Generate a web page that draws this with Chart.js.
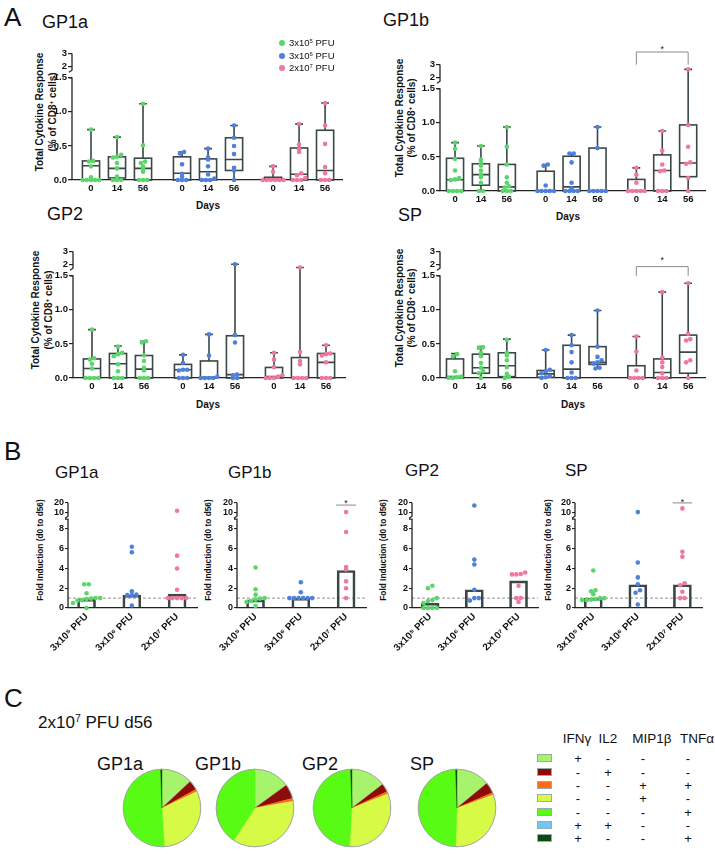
<!DOCTYPE html>
<html>
<head>
<meta charset="utf-8">
<script src="https://cdn.jsdelivr.net/npm/chart.js@4.4.1/dist/chart.umd.min.js"></script>
<style>
  body { margin: 0; background: #fff; }
  #page { position: relative; width: 715px; height: 854px; overflow: hidden; font-family: "Liberation Sans", Arial, sans-serif; color: #111; }
  .box { position: absolute; }
  .t { position: absolute; white-space: nowrap; line-height: 1; }
  .l { transform: translateY(-50%); }
  .c { transform: translate(-50%, -50%); }
  .v { transform: translate(-50%, -50%) rotate(-90deg); font-weight: bold; }
  sup { font-size: 0.62em; vertical-align: 0.5em; line-height: 0; }
</style>
</head>
<body>
<div id="page">
  <!-- panel A -->
  <div class="t l" style="left:4px;top:17px;font-size:26px">A</div>
  <div class="t l" style="left:42px;top:22px;font-size:18px">GP1a</div>
  <div class="t l" style="left:383px;top:20px;font-size:18px">GP1b</div>
  <div class="t l" style="left:47px;top:214px;font-size:18px">GP2</div>
  <div class="t l" style="left:398px;top:215px;font-size:18px">SP</div>

  <div class="t v" style="left:40px;top:112px;font-size:10px">Total Cytokine Response</div>
  <div class="t v" style="left:53px;top:112px;font-size:10px">(% of CD8<sup>+</sup> cells)</div>
  <div class="t v" style="left:400px;top:118px;font-size:10px">Total Cytokine Response</div>
  <div class="t v" style="left:412px;top:118px;font-size:10px">(% of CD8<sup>+</sup> cells)</div>
  <div class="t v" style="left:36px;top:310px;font-size:10px">Total Cytokine Response</div>
  <div class="t v" style="left:49px;top:310px;font-size:10px">(% of CD8<sup>+</sup> cells)</div>
  <div class="t v" style="left:400px;top:308px;font-size:10px">Total Cytokine Response</div>
  <div class="t v" style="left:412px;top:308px;font-size:10px">(% of CD8<sup>+</sup> cells)</div>

  <div class="t c" style="left:208px;top:206px;font-size:10px;font-weight:bold">Days</div>
  <div class="t c" style="left:568px;top:217px;font-size:10px;font-weight:bold">Days</div>
  <div class="t c" style="left:208px;top:405px;font-size:10px;font-weight:bold">Days</div>
  <div class="t c" style="left:573px;top:405px;font-size:10px;font-weight:bold">Days</div>

  <div class="box" style="left:32px;top:20px;width:314px;height:186px"><canvas id="aGP1a"></canvas></div>
  <div class="box" style="left:400px;top:31px;width:309px;height:186px"><canvas id="aGP1b"></canvas></div>
  <div class="box" style="left:33px;top:218px;width:316px;height:186px"><canvas id="aGP2"></canvas></div>
  <div class="box" style="left:400px;top:218px;width:309px;height:186px"><canvas id="aSP"></canvas></div>

  <!-- panel B -->
  <div class="t l" style="left:4px;top:451px;font-size:26px">B</div>
  <div class="t l" style="left:55px;top:472px;font-size:17px">GP1a</div>
  <div class="t l" style="left:228px;top:472px;font-size:17px">GP1b</div>
  <div class="t l" style="left:405px;top:470px;font-size:17px">GP2</div>
  <div class="t l" style="left:565px;top:470px;font-size:17px">SP</div>

  <div class="t v" style="left:40px;top:550px;font-size:8.3px">Fold Induction (d0 to d56)</div>
  <div class="t v" style="left:208px;top:550px;font-size:8.3px">Fold Induction (d0 to d56)</div>
  <div class="t v" style="left:383px;top:550px;font-size:8.3px">Fold Induction (d0 to d56)</div>
  <div class="t v" style="left:548px;top:550px;font-size:8.3px">Fold Induction (d0 to d56)</div>

  <div class="box" style="left:36px;top:490px;width:164px;height:163px"><canvas id="bGP1a"></canvas></div>
  <div class="box" style="left:205px;top:490px;width:164px;height:163px"><canvas id="bGP1b"></canvas></div>
  <div class="box" style="left:380px;top:490px;width:161px;height:163px"><canvas id="bGP2"></canvas></div>
  <div class="box" style="left:543px;top:490px;width:162px;height:163px"><canvas id="bSP"></canvas></div>

  <!-- panel C -->
  <div class="t l" style="left:4px;top:698px;font-size:26px">C</div>
  <div class="t l" style="left:38px;top:722px;font-size:17px">2x10<sup>7</sup> PFU d56</div>
  <div class="t l" style="left:97px;top:764px;font-size:18px">GP1a</div>
  <div class="t l" style="left:195px;top:764px;font-size:18px">GP1b</div>
  <div class="t l" style="left:302px;top:764px;font-size:18px">GP2</div>
  <div class="t l" style="left:410px;top:764px;font-size:18px">SP</div>

  <div class="box" style="left:122px;top:768px;width:80px;height:80px"><canvas id="cGP1a"></canvas></div>
  <div class="box" style="left:215px;top:768px;width:80px;height:80px"><canvas id="cGP1b"></canvas></div>
  <div class="box" style="left:312px;top:768px;width:80px;height:80px"><canvas id="cGP2"></canvas></div>
  <div class="box" style="left:417px;top:768px;width:80px;height:80px"><canvas id="cSP"></canvas></div>
</div>

<script>
// ---------- values ----------
const days = ['0', '14', '56'];
const doses = ['3x10⁵ PFU', '3x10⁶ PFU', '2x10⁷ PFU'];
const dosesHtml = ['3x10<sup>5</sup> PFU', '3x10<sup>6</sup> PFU', '2x10<sup>7</sup> PFU'];
const yTicksA = [0, 0.5, 1, 1.5, 2, 3];
const yLabelsA = ['0.0', '0.5', '1.0', '1.5', '2', '3'];
const yTicksB = [0, 2, 4, 6, 8, 10, 20];

// panel A, groups: 3x10^5 d0,d14,d56 | 3x10^6 d0,d14,d56 | 2x10^7 d0,d14,d56
const gp1aDots = [
  [0.74, 0.28, 0.27, 0.2, 0.04, 0, 0, 0, 0, 0],
  [0.63, 0.37, 0.34, 0.33, 0.25, 0.17, 0.05, 0, 0, 0],
  [1.12, 0.51, 0.27, 0.25, 0.2, 0.16, 0.12, 0, 0, 0],
  [0.41, 0.39, 0.23, 0.09, 0.05, 0, 0, 0],
  [0.46, 0.33, 0.3, 0.2, 0.08, 0.02, 0, 0, 0],
  [0.8, 0.62, 0.5, 0.38, 0.18, 0.14, 0],
  [0.2, 0.12, 0, 0, 0, 0, 0, 0],
  [0.82, 0.52, 0.45, 0.41, 0.1, 0.07, 0.03, 0, 0, 0],
  [1.13, 0.8, 0.53, 0.19, 0.1, 0, 0, 0]
];
// [min, q1, median, q3, max]
const gp1aBoxes = [
  [0, 0, 0.21, 0.28, 0.74], [0, 0.03, 0.17, 0.34, 0.63], [0, 0, 0.17, 0.32, 1.12],
  [0, 0, 0.1, 0.34, 0.41], [0, 0, 0.12, 0.31, 0.46], [0, 0.14, 0.3, 0.62, 0.8],
  [0, 0, 0.01, 0.04, 0.2], [0, 0, 0.085, 0.47, 0.82], [0, 0, 0.14, 0.73, 1.13]
];

const gp1bDots = [
  [0.71, 0.62, 0.47, 0.3, 0.19, 0.17, 0.16, 0, 0, 0, 0],
  [0.66, 0.46, 0.41, 0.37, 0.3, 0.24, 0.2, 0.12, 0, 0],
  [0.94, 0.65, 0.39, 0.2, 0.12, 0.07, 0.05, 0, 0, 0],
  [0.39, 0.37, 0.08, 0, 0, 0, 0, 0],
  [0.55, 0.55, 0.42, 0.12, 0.04, 0, 0, 0, 0],
  [0.94, 0.63, 0, 0, 0, 0, 0],
  [0.34, 0.24, 0.12, 0, 0, 0, 0, 0],
  [0.88, 0.59, 0.39, 0.3, 0.29, 0, 0, 0],
  [2.62, 0.97, 0.65, 0.42, 0.4, 0.19, 0]
];
const gp1bBoxes = [
  [0, 0, 0.165, 0.48, 0.71], [0, 0.085, 0.24, 0.4, 0.66], [0, 0, 0.06, 0.39, 0.94],
  [0, 0, 0, 0.29, 0.39], [0, 0, 0.06, 0.51, 0.55], [0, 0, 0, 0.63, 0.94],
  [0, 0, 0, 0.17, 0.34], [0, 0, 0.3, 0.53, 0.88], [0, 0.21, 0.41, 0.97, 2.62]
];

const gp2Dots = [
  [0.71, 0.29, 0.27, 0.21, 0.14, 0, 0, 0, 0],
  [0.46, 0.37, 0.35, 0.32, 0.2, 0.1, 0, 0, 0],
  [0.54, 0.52, 0.33, 0.25, 0.15, 0.11, 0, 0, 0],
  [0.34, 0.22, 0.12, 0.12, 0.11, 0, 0, 0],
  [0.64, 0.33, 0.02, 0, 0, 0, 0],
  [2.0, 0.63, 0.52, 0.05, 0.04, 0, 0],
  [0.37, 0.27, 0.16, 0.04, 0.02, 0, 0, 0],
  [1.86, 0.38, 0.25, 0.2, 0, 0, 0, 0],
  [0.48, 0.36, 0.35, 0.33, 0.23, 0, 0, 0]
];
const gp2Boxes = [
  [0, 0, 0.14, 0.28, 0.71], [0, 0, 0.21, 0.36, 0.47], [0, 0, 0.13, 0.33, 0.54],
  [0, 0, 0.12, 0.2, 0.34], [0, 0, 0.01, 0.25, 0.64], [0, 0, 0.05, 0.62, 2.0],
  [0, 0, 0.02, 0.155, 0.37], [0, 0, 0, 0.3, 1.86], [0, 0, 0.23, 0.36, 0.48]
];

const spDots = [
  [0.35, 0.32, 0.1, 0.02, 0.01, 0, 0],
  [0.45, 0.44, 0.37, 0.32, 0.22, 0.15, 0.1, 0.07, 0],
  [0.56, 0.37, 0.33, 0.26, 0.16, 0.06, 0.02, 0],
  [0.41, 0.12, 0.1, 0.07, 0.03, 0.01, 0],
  [0.63, 0.48, 0.38, 0.23, 0.08, 0, 0, 0],
  [0.99, 0.46, 0.31, 0.26, 0.23, 0.21, 0.15, 0.14],
  [0.61, 0.39, 0.11, 0, 0, 0, 0],
  [1.26, 0.3, 0.23, 0.16, 0.07, 0, 0, 0],
  [1.39, 0.65, 0.57, 0.55, 0.26, 0.23, 0]
];
const spBoxes = [
  [0, 0, 0.02, 0.28, 0.36], [0, 0.07, 0.15, 0.35, 0.46], [0, 0.02, 0.18, 0.37, 0.57],
  [0, 0.01, 0.06, 0.11, 0.41], [0, 0, 0.13, 0.48, 0.63], [0.14, 0.2, 0.23, 0.46, 0.99],
  [0, 0, 0, 0.18, 0.61], [0, 0, 0.08, 0.28, 1.26], [0, 0.07, 0.38, 0.63, 1.39]
];

// panel B, fold induction d0 -> d56 per dose, and the bar height
const gp1aFold = [
  [2.4, 2.4, 1.5, 1.0, 1.0, 0.95, 0.9, 0.8, 0.75, 0.5, 0],
  [6.2, 5.65, 1.7, 1.35, 1.3, 1.3, 0.25],
  [11.5, 5.3, 4.0, 1.85, 1.0, 1.0, 1.0, 1.0, 1.0]
];
const gp1aFoldBar = [0.9, 1.3, 1.4];
const gp1bFold = [
  [4.1, 1.9, 1.35, 1.0, 0.95, 0.85, 0.7, 0.6, 0.2],
  [2.6, 1.6, 1.0, 1.0, 1.0, 1.0, 1.0, 1.0],
  [10.1, 7.7, 4.15, 3.9, 2.7, 2.0, 1.0]
];
const gp1bFoldBar = [0.83, 1.0, 3.8];
const gp2Fold = [
  [2.25, 2.0, 1.0, 0.8, 0.7, 0.5, 0, 0, 0, 0],
  [17, 4.9, 4.4, 1.85, 1.0, 1.0, 0.75],
  [3.6, 3.45, 3.4, 3.4, 2.25, 1.0, 1.0, 0.6]
];
const gp2FoldBar = [0.48, 1.85, 2.75];
const spFold = [
  [3.8, 1.8, 1.7, 1.4, 1.0, 1.0, 0.9, 0.85, 0.8, 0.8],
  [10.1, 4.6, 3.1, 2.4, 1.8, 1.55, 0.35],
  [14, 5.7, 5.2, 2.5, 2.3, 1.65, 1.0, 1.0]
];
const spFoldBar = [1.0, 2.35, 2.35];

// panel C, share of each cytokine combination (%)
const cytokines = ['IFNγ', 'IL2', 'MIP1β', 'TNFα'];
const combos = [
  ['+', '-', '-', '-'],
  ['-', '+', '-', '-'],
  ['-', '-', '+', '+'],
  ['-', '-', '+', '-'],
  ['-', '-', '-', '+'],
  ['+', '+', '-', '-'],
  ['+', '-', '-', '+']
];
const gp1aPie = [13, 4, 1, 31, 50.4, 0, 0.6];
const gp1bPie = [15, 6, 1.2, 37, 40.8, 0, 0];
const gp2Pie = [14.5, 3.5, 1, 32, 48.4, 0, 0.6];
const spPie = [14, 4.5, 1, 31, 48.9, 0, 0.6];

// ---------- style ----------
Chart.defaults.font.family = '"Liberation Sans", Arial, sans-serif';
Chart.defaults.color = '#111';
const ink = '#222';
const boxInk = '#3b4747';
const doseColors = ['#5bd66b', '#4f80dc', '#ee78a0'];
const pieColors = ['#a6f46c', '#8c0b0b', '#ff6a12', '#d6fa46', '#57fb14', '#74c6f2', '#0c4a12'];
const groupX = [1, 2, 3, 4.5, 5.5, 6.5, 8, 9, 10];

// broken y axes
function brkA(v) {
  if (v <= 1.5) return v;
  if (v <= 2) return 1.5 + (v - 1.5) * 0.34;
  return 1.67 + (v - 2) * 0.185;
}
function brkB(v) {
  if (v <= 9) return v;
  if (v <= 10) return 9 + (v - 9) * 0.7;
  return 9.7 + (v - 10) * 0.096;
}

// place near-equal values side by side, like a scatter dot plot
function spread(vals, tol, step) {
  const order = vals.map((v, i) => i).sort((a, b) => vals[a] - vals[b]);
  const offs = new Array(vals.length).fill(0);
  let start = 0;
  for (let k = 1; k <= order.length; k++) {
    if (k === order.length || vals[order[k]] - vals[order[k - 1]] > tol) {
      const n = k - start;
      for (let j = start; j < k; j++) offs[order[j]] = (j - start - (n - 1) / 2) * step;
      start = k;
    }
  }
  return offs;
}

function brokenAxis(ctx, x0, y, lowTop, upLow, upTop) {
  const yb = y.getPixelForValue(upLow) + 4;
  ctx.beginPath();
  ctx.moveTo(x0, y.getPixelForValue(0));
  ctx.lineTo(x0, y.getPixelForValue(lowTop));
  ctx.lineTo(x0 - 3, y.getPixelForValue(lowTop));
  ctx.moveTo(x0, y.getPixelForValue(upTop));
  ctx.lineTo(x0, yb);
  ctx.lineTo(x0 - 3, yb + 2);
  ctx.stroke();
}

function drawSig(ctx, x, y, s) {
  const x1 = x.getPixelForValue(s.from), x2 = x.getPixelForValue(s.to);
  const yl = y.getPixelForValue(s.at);
  ctx.save();
  ctx.strokeStyle = '#8a8a8a';
  ctx.lineWidth = 1;
  ctx.beginPath();
  if (s.drop !== undefined) {
    ctx.moveTo(x1, y.getPixelForValue(s.drop));
    ctx.lineTo(x1, yl);
    ctx.lineTo(x2, yl);
    ctx.lineTo(x2, y.getPixelForValue(s.drop));
  } else {
    ctx.moveTo(x1, yl);
    ctx.lineTo(x2, yl);
  }
  ctx.stroke();
  ctx.fillStyle = ink;
  ctx.font = '9px "Liberation Sans", Arial';
  ctx.textAlign = 'center';
  ctx.textBaseline = 'alphabetic';
  ctx.fillText('*', (x1 + x2) / 2, y.getPixelForValue(s.star) + 5);
  ctx.restore();
}

function boxLayer(boxes, sig) {
  return {
    id: 'boxLayer',
    beforeDatasetsDraw(chart) {
      const { ctx, chartArea, scales: { x, y } } = chart;
      ctx.save();
      ctx.strokeStyle = boxInk;
      ctx.lineWidth = 1.6;
      boxes.forEach((b, g) => {
        const c = groupX[g];
        const [mn, q1, md, q3, mx] = b.map(v => y.getPixelForValue(brkA(v)));
        const xl = x.getPixelForValue(c - 0.33), xr = x.getPixelForValue(c + 0.33);
        const xc = x.getPixelForValue(c);
        const cl = x.getPixelForValue(c - 0.15), cr = x.getPixelForValue(c + 0.15);
        ctx.strokeRect(xl, q3, xr - xl, q1 - q3);
        ctx.beginPath();
        ctx.moveTo(xl, md); ctx.lineTo(xr, md);
        ctx.moveTo(xc, q3); ctx.lineTo(xc, mx);
        ctx.moveTo(cl, mx); ctx.lineTo(cr, mx);
        ctx.moveTo(xc, q1); ctx.lineTo(xc, mn);
        ctx.stroke();
      });
      ctx.strokeStyle = ink;
      ctx.lineWidth = 1.3;
      brokenAxis(ctx, chartArea.left, y, 1.5, brkA(2), brkA(3));
      if (sig) drawSig(ctx, x, y, sig);
      ctx.restore();
    }
  };
}

function foldLayer(sig) {
  return {
    id: 'foldLayer',
    beforeDatasetsDraw(chart) {
      const { ctx, chartArea: a, scales: { x, y } } = chart;
      ctx.save();
      const y1 = y.getPixelForValue(1);
      ctx.strokeStyle = '#777';
      ctx.lineWidth = 0.8;
      ctx.setLineDash([3, 2]);
      ctx.beginPath();
      ctx.moveTo(a.left, y1);
      ctx.lineTo(a.right, y1);
      ctx.stroke();
      ctx.setLineDash([]);
      ctx.strokeStyle = ink;
      ctx.lineWidth = 1.3;
      brokenAxis(ctx, a.left, y, 9, brkB(10), brkB(20));
      if (sig) drawSig(ctx, x, y, sig);
      ctx.restore();
    }
  };
}

function makeA(id, dots, boxes, xMin, xMax, sig) {
  const sets = doses.map((d, k) => ({
    label: d,
    data: [0, 1, 2].flatMap(t => {
      const g = k * 3 + t;
      const offs = spread(dots[g], 0.03, 0.16);
      return dots[g].map((v, i) => ({ x: groupX[g] + offs[i], y: brkA(v) }));
    }),
    backgroundColor: doseColors[k],
    borderWidth: 0,
    pointRadius: 2.3,
    clip: false
  }));
  new Chart(document.getElementById(id), {
    type: 'scatter',
    data: { datasets: sets },
    options: {
      responsive: true,
      maintainAspectRatio: false,
      animation: false,
      layout: { padding: { right: 4 }, autoPadding: false },
      plugins: { legend: { display: false }, tooltip: { enabled: false } },
      scales: {
        x: {
          type: 'linear', min: xMin, max: xMax,
          grid: { display: false, drawTicks: false },
          border: { color: ink, width: 1.3 },
          afterBuildTicks: s => { s.ticks = groupX.map(v => ({ value: v })); },
          ticks: { callback: (v, i) => days[i % 3], autoSkip: false, maxRotation: 0, padding: 3, font: { size: 9.5, weight: 'bold' } },
          afterFit: s => { s.height = 26; }
        },
        y: {
          min: 0, max: 2.25,
          border: { display: false },
          grid: { drawOnChartArea: false, tickLength: 4, color: ink, lineWidth: 1.2 },
          afterBuildTicks: s => { s.ticks = yTicksA.map(v => ({ value: brkA(v) })); },
          ticks: { callback: (v, i) => yLabelsA[i], autoSkip: false, padding: 1, font: { size: 9.5, weight: 'bold' } },
          afterFit: s => { s.width = 40; }
        }
      }
    },
    plugins: [boxLayer(boxes, sig)]
  });
}

function makeB(id, dots, bars, sig) {
  const pts = doses.map((d, k) => {
    const offs = spread(dots[k], 0.25, 0.1);
    return {
      type: 'scatter', label: d,
      data: dots[k].map((v, i) => ({ x: k + 1 + offs[i], y: brkB(v) })),
      backgroundColor: doseColors[k], borderWidth: 0, pointRadius: 2.3, clip: false, order: 1
    };
  });
  new Chart(document.getElementById(id), {
    type: 'bar',
    data: {
      datasets: [{
        type: 'bar', label: 'bar',
        data: bars.map((b, k) => ({ x: k + 1, y: brkB(b) })),
        backgroundColor: 'rgba(255,255,255,0)', borderColor: boxInk, borderWidth: 2,
        barThickness: 18, clip: false, order: 2
      }, ...pts]
    },
    options: {
      responsive: true,
      maintainAspectRatio: false,
      animation: false,
      layout: { padding: { right: 3 }, autoPadding: false },
      plugins: { legend: { display: false }, tooltip: { enabled: false } },
      scales: {
        x: {
          type: 'linear', offset: false, min: 0.59, max: 3.44,
          grid: { display: false, drawTicks: false, offset: false },
          border: { color: ink, width: 1.3 },
          afterBuildTicks: s => { s.ticks = [1, 2, 3].map(v => ({ value: v })); },
          ticks: { callback: (v, i) => doses[i], autoSkip: false, minRotation: 45, maxRotation: 45, padding: 3, font: { size: 9.8, weight: 'bold' } },
          afterFit: s => { s.height = 45; }
        },
        y: {
          min: 0, max: 11.3,
          border: { display: false },
          grid: { drawOnChartArea: false, tickLength: 3, color: ink, lineWidth: 1.1 },
          afterBuildTicks: s => { s.ticks = yTicksB.map(v => ({ value: brkB(v) })); },
          ticks: { callback: (v, i) => String(yTicksB[i]), autoSkip: false, padding: 1, font: { size: 9, weight: 'bold' } },
          afterFit: s => { s.width = 32; }
        }
      }
    },
    plugins: [foldLayer(sig)]
  });
}

const ring = {
  id: 'ring',
  afterDatasetsDraw(chart) {
    const arc = chart.getDatasetMeta(0).data[0];
    const ctx = chart.ctx;
    ctx.save();
    ctx.strokeStyle = '#a4a4a4';
    ctx.lineWidth = 1;
    ctx.beginPath();
    ctx.arc(arc.x, arc.y, arc.outerRadius, 0, Math.PI * 2);
    ctx.stroke();
    ctx.restore();
  }
};

function makePie(id, vals) {
  new Chart(document.getElementById(id), {
    type: 'pie',
    data: {
      labels: combos.map(c => c.join('')),
      datasets: [{ data: vals, backgroundColor: pieColors, borderColor: pieColors, borderWidth: 0.4 }]
    },
    options: {
      responsive: true,
      maintainAspectRatio: false,
      animation: false,
      layout: { padding: 1 },
      plugins: { legend: { display: false }, tooltip: { enabled: false } }
    },
    plugins: [ring]
  });
}

makeA('aGP1a', gp1aDots, gp1aBoxes, 0.27, 10.65);
makeA('aGP1b', gp1bDots, gp1bBoxes, 0.42, 10.65, { from: 8, to: 10, at: 2.04, drop: brkA(3), star: 2.11 });
makeA('aGP2', gp2Dots, gp2Boxes, 0.27, 10.73);
makeA('aSP', spDots, spBoxes, 0.42, 10.65, { from: 8, to: 10, at: 1.635, drop: 1.5, star: 1.757 });

makeB('bGP1a', gp1aFold, gp1aFoldBar);
makeB('bGP1b', gp1bFold, gp1bFoldBar, { from: 2.78, to: 3.22, at: 10.42, star: 10.8 });
makeB('bGP2', gp2Fold, gp2FoldBar);
makeB('bSP', spFold, spFoldBar, { from: 2.78, to: 3.22, at: 10.64, star: 10.97 });

makePie('cGP1a', gp1aPie);
makePie('cGP1b', gp1bPie);
makePie('cGP2', gp2Pie);
makePie('cSP', spPie);

// html legends
const page = document.getElementById('page');
function addText(html, x, y, cls, css) {
  const d = document.createElement('div');
  d.className = 't ' + cls;
  d.innerHTML = html;
  d.style.cssText = 'left:' + x + 'px;top:' + y + 'px;' + (css || '');
  page.appendChild(d);
}
dosesHtml.forEach((d, k) => {
  const cy = 43.3 + k * 12.5;
  const dot = document.createElement('div');
  dot.style.cssText = 'position:absolute;width:6px;height:6px;border-radius:3px;left:279px;top:' + (cy - 3) + 'px;background:' + doseColors[k];
  page.appendChild(dot);
  addText(d, 289, cy, 'l', 'font-size:9.5px');
});

const headX = [577, 608, 652, 697];
const colX = [578, 608, 643, 688];
cytokines.forEach((c, i) => addText(c, headX[i], 739, 'c', 'font-size:13.5px'));
combos.forEach((row, r) => {
  const cy = 758.3 + r * 13.33;
  const sw = document.createElement('div');
  sw.style.cssText = 'position:absolute;left:537px;top:' + (cy - 4) + 'px;width:15px;height:8px;box-sizing:border-box;border:1px solid #9aa;background:' + pieColors[r];
  page.appendChild(sw);
  row.forEach((s, c) => addText(s, colX[c], cy, 'c', 'font-size:13px'));
});
</script>
</body>
</html>
